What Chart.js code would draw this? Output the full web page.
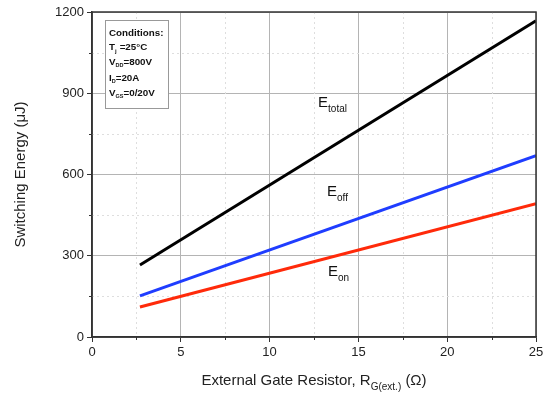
<!DOCTYPE html>
<html>
<head>
<meta charset="utf-8">
<script src="https://cdn.jsdelivr.net/npm/chart.js@4/dist/chart.umd.min.js"></script>
<style>
  html, body { margin:0; padding:0; background:#fff; }
  #wrap { width:548px; height:394px; }
</style>
</head>
<body>
<div id="wrap"><canvas id="chart" width="548" height="394"></canvas></div>
<script>
// ─── DATA ───
const rg      = [2.7, 25];
const eTotal  = [266, 1168];
const eOff    = [152, 670];
const eOn     = [111, 492];
const xTicks  = [0, 5, 10, 15, 20, 25];
const yTicks  = [0, 300, 600, 900, 1200];
const xMinor  = [2.5, 7.5, 12.5, 17.5, 22.5];
const yMinor  = [150, 450, 750, 1050];

const FONT = '"Liberation Sans", Arial, sans-serif';

// write text with a subscript part
function subText(ctx, x, y, main, sub, size, subSize, bold) {
  const w = bold ? 'bold ' : '';
  ctx.font = w + size + 'px ' + FONT;
  ctx.textBaseline = 'middle';
  ctx.textAlign = 'left';
  ctx.fillText(main, x, y);
  let mw = ctx.measureText(main).width;
  if (sub) {
    ctx.font = w + subSize + 'px ' + FONT;
    ctx.fillText(sub, x + mw, y + size * 0.4);
    mw += ctx.measureText(sub).width;
  }
  return x + mw;
}

const decorPlugin = {
  id: 'decor',
  beforeDatasetsDraw(chart) {
    const { ctx, chartArea: a, scales: { x, y } } = chart;
    ctx.save();
    ctx.strokeStyle = '#dedede';
    ctx.lineWidth = 1;
    ctx.setLineDash([2, 3]);
    xMinor.forEach(v => {
      const px = Math.round(x.getPixelForValue(v)) + 0.5;
      ctx.beginPath(); ctx.moveTo(px, a.top); ctx.lineTo(px, a.bottom); ctx.stroke();
    });
    yMinor.forEach(v => {
      const py = Math.round(y.getPixelForValue(v)) + 0.5;
      ctx.beginPath(); ctx.moveTo(a.left, py); ctx.lineTo(a.right, py); ctx.stroke();
    });
    ctx.setLineDash([]);
    // minor tick marks
    ctx.strokeStyle = '#333';
    xMinor.forEach(v => {
      const px = Math.round(x.getPixelForValue(v)) + 0.5;
      ctx.beginPath(); ctx.moveTo(px, a.bottom); ctx.lineTo(px, a.bottom + 3); ctx.stroke();
    });
    yMinor.forEach(v => {
      const py = Math.round(y.getPixelForValue(v)) + 0.5;
      ctx.beginPath(); ctx.moveTo(a.left - 3, py); ctx.lineTo(a.left, py); ctx.stroke();
    });
    ctx.restore();
  },
  afterDraw(chart) {
    const { ctx, chartArea: a, scales: { x, y } } = chart;
    ctx.save();
    // frame
    ctx.strokeStyle = '#333';
    ctx.lineWidth = 1.5;
    ctx.strokeRect(a.left, a.top, a.right - a.left, a.bottom - a.top);

    // conditions box
    ctx.fillStyle = '#fff';
    ctx.fillRect(105.5, 20.5, 63, 88);
    ctx.strokeStyle = '#999';
    ctx.lineWidth = 1;
    ctx.strokeRect(105.5, 20.5, 63, 88);
    ctx.fillStyle = '#111';
    subText(ctx, 109, 33, 'Conditions:', '', 9.8, 7, true);
    let e = subText(ctx, 109, 47, 'T', 'j', 9.8, 6, true);
    subText(ctx, e + 3, 47, '=25°C', '', 9.8, 6, true);
    e = subText(ctx, 109, 62, 'V', 'DD', 9.8, 5.5, true);
    subText(ctx, e, 62, '=800V', '', 9.8, 6, true);
    e = subText(ctx, 109, 78, 'I', 'D', 9.8, 5.5, true);
    subText(ctx, e, 78, '=20A', '', 9.8, 6, true);
    e = subText(ctx, 109, 93, 'V', 'GS', 9.8, 5.5, true);
    subText(ctx, e, 93, '=0/20V', '', 9.8, 6, true);

    // curve labels
    ctx.fillStyle = '#111';
    subText(ctx, x.getPixelForValue(12.73), y.getPixelForValue(864), 'E', 'total', 15, 10, false);
    subText(ctx, x.getPixelForValue(13.23), y.getPixelForValue(535), 'E', 'off', 15, 10, false);
    subText(ctx, x.getPixelForValue(13.29), y.getPixelForValue(240), 'E', 'on', 15, 10, false);

    // axis titles
    ctx.fillStyle = '#222';
    const t1 = 'External Gate Resistor, R';
    const t2 = 'G(ext.)';
    const t3 = ' (Ω)';
    ctx.font = '15px ' + FONT; const w1 = ctx.measureText(t1).width;
    ctx.font = '10px ' + FONT; const w2 = ctx.measureText(t2).width;
    ctx.font = '15px ' + FONT; const w3 = ctx.measureText(t3).width;
    const cx = (a.left + a.right) / 2;
    let sx = cx - (w1 + w2 + w3) / 2;
    sx = subText(ctx, sx, 381, t1, t2, 15, 10, false);
    subText(ctx, sx, 381, t3, '', 15, 10, false);

    ctx.translate(21, (a.top + a.bottom) / 2);
    ctx.rotate(-Math.PI / 2);
    ctx.font = '15px ' + FONT;
    ctx.textAlign = 'center';
    ctx.textBaseline = 'middle';
    ctx.fillText('Switching Energy (μJ)', 0, 0);
    ctx.restore();
  }
};

function series(label, vals, color) {
  return {
    label: label,
    data: rg.map((r, i) => ({ x: r, y: vals[i] })),
    borderColor: color,
    borderWidth: 3,
    pointRadius: 0,
    fill: false,
    tension: 0
  };
}

new Chart(document.getElementById('chart'), {
  type: 'line',
  data: {
    datasets: [
      series('Etotal', eTotal, '#000000'),
      series('Eoff', eOff, '#1f3dff'),
      series('Eon', eOn, '#ff2a0a')
    ]
  },
  plugins: [decorPlugin],
  options: {
    responsive: false,
    animation: false,
    layout: { padding: { top: 12, right: 12, left: 0, bottom: 0 } },
    plugins: { legend: { display: false }, tooltip: { enabled: false } },
    scales: {
      x: {
        type: 'linear', min: 0, max: 25,
        afterBuildTicks: s => { s.ticks = xTicks.map(v => ({ value: v })); },
        afterFit: s => { s.height = 57; },
        grid: { color: '#b4b4b4', lineWidth: 1, tickColor: '#333', tickLength: 5 },
        border: { color: '#333', width: 1.5 },
        ticks: { color: '#222', font: { family: FONT, size: 13 }, padding: 3, maxRotation: 0, callback: v => String(v) }
      },
      y: {
        type: 'linear', min: 0, max: 1200,
        afterBuildTicks: s => { s.ticks = yTicks.map(v => ({ value: v })); },
        afterFit: s => { s.width = 92; },
        grid: { color: '#b4b4b4', lineWidth: 1, tickColor: '#333', tickLength: 5 },
        border: { color: '#333', width: 1.5 },
        ticks: { color: '#222', font: { family: FONT, size: 13 }, padding: 3, callback: v => String(v) }
      }
    }
  }
});
</script>
</body>
</html>
